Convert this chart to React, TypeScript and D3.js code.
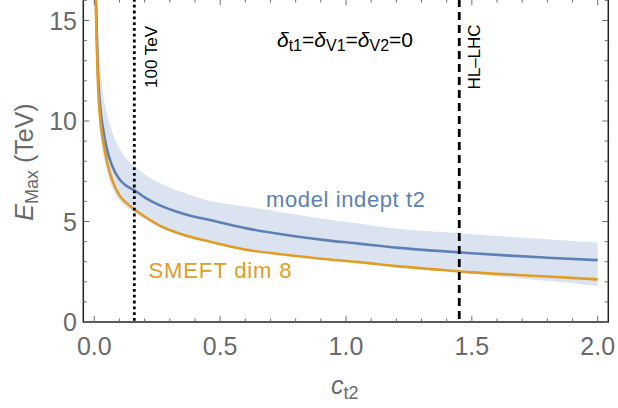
import React from "react";
import * as d3 from "d3";

// Sample points in c_t2
const cGrid = [0.004, 0.006, 0.008, 0.012, 0.017, 0.025, 0.035, 0.05, 0.07, 0.1, 0.13, 0.16, 0.2, 0.27, 0.35, 0.46, 0.6, 0.75, 0.9, 1.05, 1.2, 1.35, 1.5, 1.65, 1.8, 2.0];

// SMEFT dim 8 reach (TeV)
const smeftE = [17.3, 15.8, 14.8, 12.8, 11.2, 9.9, 9.0, 8.0, 7.1, 6.3, 5.9, 5.6, 5.25, 4.73, 4.35, 3.99, 3.6, 3.36, 3.15, 2.98, 2.78, 2.62, 2.47, 2.36, 2.26, 2.12];

// model-independent t2 reach (TeV)
const indepE = [18.0, 16.3, 15.3, 13.3, 11.8, 10.5, 9.6, 8.6, 7.8, 7.1, 6.75, 6.55, 6.2, 5.75, 5.4, 5.07, 4.67, 4.35, 4.1, 3.9, 3.7, 3.55, 3.42, 3.3, 3.2, 3.08];

// uncertainty band around the model-independent curve
const bandLow = [16.3, 14.6, 13.4, 11.6, 10.3, 9.2, 8.4, 7.5, 6.7, 6.05, 5.7, 5.45, 5.12, 4.65, 4.3, 3.97, 3.6, 3.36, 3.15, 2.96, 2.76, 2.58, 2.4, 2.22, 2.05, 1.79];
const bandHigh = [20.0, 18.5, 17.3, 16.0, 14.3, 12.6, 11.3, 10.4, 9.5, 8.65, 8.1, 7.75, 7.35, 6.85, 6.45, 6.02, 5.75, 5.45, 5.15, 4.9, 4.65, 4.5, 4.37, 4.24, 4.12, 3.95];

// reference collider lines
const colliderC = [0.159, 1.45];
const colliderNames = ["100 TeV", "HL\u2013LHC"];

const xTicks = [0, 0.5, 1.0, 1.5, 2.0];
const xTickLabels = ["0.0", "0.5", "1.0", "1.5", "2.0"];
const yTicks = [0, 5, 10, 15];
const yTickLabels = ["0", "5", "10", "15"];

const W = 618;
const H = 408;
const left = 83.3;
const right = 608.3;
const top = -1;
const bottom = 322;

const orange = "#e19c24";
const blue = "#5e81b5";
const bandFill = "#dce3f0";
const tickGrey = "#6a6a6a";
const font = "'Liberation Sans', Arial, sans-serif";

export default function App() {
  const x = d3.scaleLinear().domain([0, 2]).range([94.3, 597.7]);
  const y = d3.scaleLinear().domain([0, 16]).range([322, 0.4]);

  const pts = (vals: number[]) => cGrid.map((c, i) => [c, vals[i]] as [number, number]);
  const line = d3
    .line<[number, number]>()
    .x((d) => x(d[0]))
    .y((d) => y(d[1]))
    .curve(d3.curveMonotoneX);
  const area = d3
    .area<number>()
    .x((_, i) => x(cGrid[i]))
    .y0((_, i) => y(bandLow[i]))
    .y1((_, i) => y(bandHigh[i]))
    .curve(d3.curveMonotoneX);

  const xMinor = d3.range(0, 21).map((i) => i / 10).filter((v) => Math.abs(v * 2 - Math.round(v * 2)) > 1e-6);
  const yMinor = d3.range(0, 17).filter((v) => v % 5 !== 0);

  return (
    <svg width={W} height={H} style={{ position: "absolute", left: 0, top: 0, background: "#fff" }} fontFamily={font}>
      <defs>
        <clipPath id="plotClip">
          <rect x={left} y={top} width={right - left} height={bottom - top} />
        </clipPath>
      </defs>

      <g clipPath="url(#plotClip)">
        <path d={area(cGrid.map((_, i) => i)) || ""} fill={bandFill} />
        <path d={line(pts(indepE)) || ""} fill="none" stroke={blue} strokeWidth={2.6} />
        <path d={line(pts(smeftE)) || ""} fill="none" stroke={orange} strokeWidth={2.6} />
        {colliderC.map((c, i) => (
          <line
            key={i}
            x1={x(c)}
            x2={x(c)}
            y1={top}
            y2={bottom}
            stroke="#000"
            strokeWidth={2.8}
            strokeDasharray={i === 0 ? "2.8,3" : "8,5"}
          />
        ))}
      </g>

      {/* frame */}
      <g stroke="#222" strokeWidth={1.5} fill="none">
        <line x1={left} x2={left} y1={top} y2={bottom + 0.75} />
        <line x1={right} x2={right} y1={top} y2={bottom + 0.75} />
        <line x1={left} x2={right} y1={bottom} y2={bottom} />
        <line x1={left} x2={right} y1={top} y2={top} />
      </g>

      {/* ticks */}
      <g stroke={tickGrey} strokeWidth={1}>
        {xTicks.map((v) => (
          <g key={"xt" + v}>
            <line x1={x(v)} x2={x(v)} y1={bottom} y2={bottom - 6} />
            <line x1={x(v)} x2={x(v)} y1={top} y2={top + 6} />
          </g>
        ))}
        {xMinor.map((v) => (
          <g key={"xm" + v}>
            <line x1={x(v)} x2={x(v)} y1={bottom} y2={bottom - 3.5} />
            <line x1={x(v)} x2={x(v)} y1={top} y2={top + 3.5} />
          </g>
        ))}
        {yTicks.map((v) => (
          <g key={"yt" + v}>
            <line x1={left} x2={left + 6} y1={y(v)} y2={y(v)} />
            <line x1={right} x2={right - 6} y1={y(v)} y2={y(v)} />
          </g>
        ))}
        {yMinor.map((v) => (
          <g key={"ym" + v}>
            <line x1={left} x2={left + 3.5} y1={y(v)} y2={y(v)} />
            <line x1={right} x2={right - 3.5} y1={y(v)} y2={y(v)} />
          </g>
        ))}
      </g>

      {/* tick labels */}
      <g fill={tickGrey} fontSize={25}>
        {xTicks.map((v, i) => (
          <text key={"xl" + v} x={x(v)} y={355} textAnchor="middle">
            {xTickLabels[i]}
          </text>
        ))}
        {yTicks.map((v, i) => (
          <text key={"yl" + v} x={77} y={y(v) + 9} textAnchor="end">
            {yTickLabels[i]}
          </text>
        ))}
      </g>

      {/* axis titles */}
      <text x={331} y={394} fill={tickGrey} fontSize={25}>
        <tspan fontStyle="italic">c</tspan>
        <tspan fontSize={18} dy={5}>t2</tspan>
      </text>
      <text transform="translate(33,162) rotate(-90)" textAnchor="middle" fill={tickGrey} fontSize={25}>
        <tspan fontStyle="italic">E</tspan>
        <tspan fontSize={18} dy={5}>Max</tspan>
        <tspan dy={-5}> (TeV)</tspan>
      </text>

      {/* collider labels */}
      <text transform={`translate(${x(colliderC[0]) + 22.5},57) rotate(-90)`} textAnchor="middle" fontSize={17} fill="#000">
        {colliderNames[0]}
      </text>
      <text transform={`translate(${x(colliderC[1]) + 20.5},57) rotate(-90)`} textAnchor="middle" fontSize={17} fill="#000">
        {colliderNames[1]}
      </text>

      {/* assumption note */}
      <text x={277} y={47} fontSize={21} fill="#000">
        <tspan fontStyle="italic">δ</tspan>
        <tspan fontSize={16} dy={4}>t1</tspan>
        <tspan dy={-4}>=</tspan>
        <tspan fontStyle="italic">δ</tspan>
        <tspan fontSize={16} dy={4}>V1</tspan>
        <tspan dy={-4}>=</tspan>
        <tspan fontStyle="italic">δ</tspan>
        <tspan fontSize={16} dy={4}>V2</tspan>
        <tspan dy={-4}>=0</tspan>
      </text>

      {/* series labels */}
      <text x={266} y={207} fontSize={22} fill={blue} textLength={159} lengthAdjust="spacing">
        model indept t2
      </text>
      <text x={148.5} y={278} fontSize={22} fill={orange} textLength={143} lengthAdjust="spacing">
        SMEFT dim 8
      </text>
    </svg>
  );
}
